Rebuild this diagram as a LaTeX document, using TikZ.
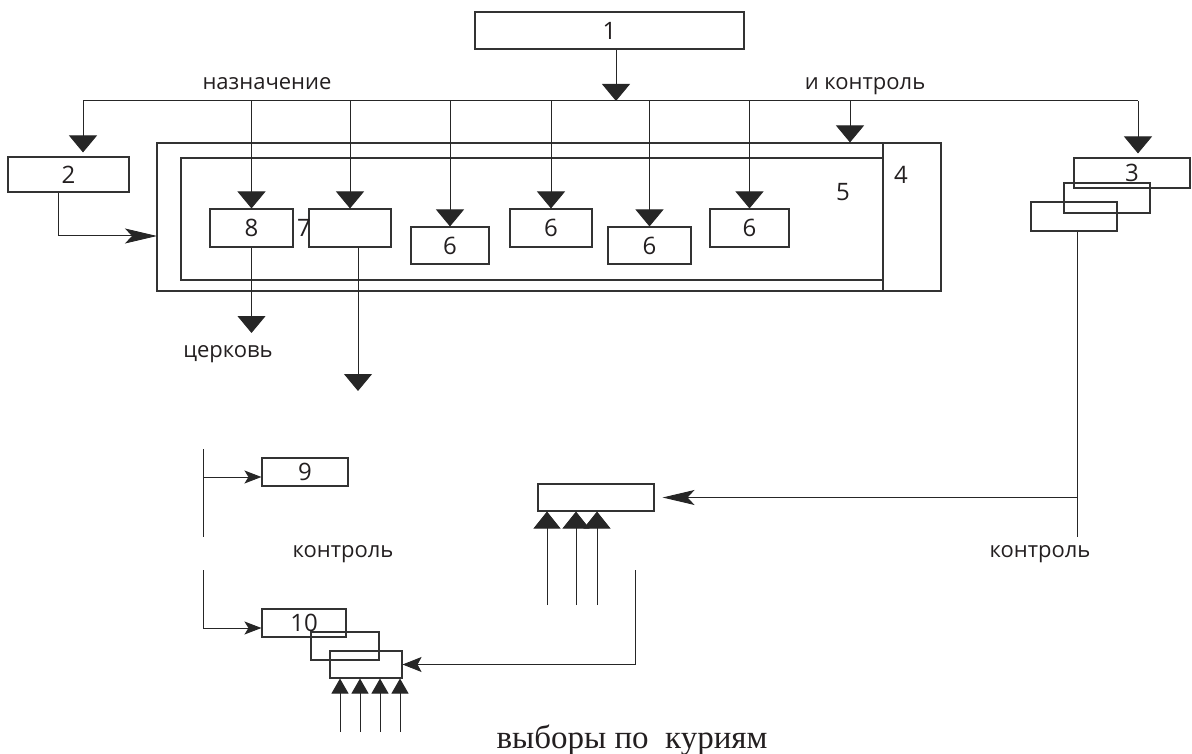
\documentclass[tikz,border=0pt]{standalone}
\usepackage{fontspec}
\setmainfont{Open Sans}
\newfontfamily\serifcyr{Liberation Serif}
\usepackage{tikz}
\usetikzlibrary{arrows.meta, positioning, calc}

\definecolor{ink}{HTML}{231F20}

\tikzset{
  box/.style={draw=black!80, line width=1.1pt, inner sep=0pt, text=ink, font=\fontsize{24}{28}\selectfont},
  lbl/.style={inner sep=0pt, text=ink, font=\fontsize{22}{26}\selectfont},
  dn/.style={-{Triangle[width=28pt,length=17pt]}},
  upsm/.style={-{Triangle[width=17pt,length=15pt]}},
  upbig/.style={-{Triangle[width=27pt,length=17pt]}},
  sidebig/.style={-{Stealth[width=15pt,length=32pt,inset=7pt]}},
  sidemid/.style={-{Stealth[width=15pt,length=19pt,inset=4pt]}},
  sidesm/.style={-{Stealth[width=13pt,length=17pt,inset=4pt]}},
}

\begin{document}
\begin{tikzpicture}[x=1pt, y=-1pt, line width=1pt, color=black!85]
\useasboundingbox (0,0) rectangle (1192,754);

\node[box, minimum width=269pt, minimum height=37pt] (b1) at (609.5,30.5) {1};
\node[box, minimum width=121pt, minimum height=35pt] (b2) at (68.5,174.5) {2};
\node[box, minimum width=116pt, minimum height=30pt] (b3) at (1132,173) {3};
\node[box, minimum width=86pt, minimum height=30pt] (b3b) at (1107,198) {};
\node[box, minimum width=86pt, minimum height=29pt] (b3c) at (1074,216.5) {};

\node[box, minimum width=784pt, minimum height=148pt] (outer) at (549,217) {};
\node[box, minimum width=58pt, minimum height=148pt] (b4) at (912,217) {};
\node[box, minimum width=702pt, minimum height=122pt] (b5) at (532,219) {};
\node[lbl, font=\fontsize{24}{28}\selectfont] (n4) at (901,175) {4};
\node[lbl, font=\fontsize{24}{28}\selectfont] (n5) at (843,192) {5};

\node[box, minimum width=83pt, minimum height=38pt] (b8) at (251.5,228) {8};
\node[box, minimum width=82pt, minimum height=38pt] (b7) at (350,228) {};
\node[lbl, font=\fontsize{24}{28}\selectfont] (n7) at (304,228) {7};
\node[box, minimum width=78pt, minimum height=37pt] (b6a) at (450,245.5) {6};
\node[box, minimum width=82pt, minimum height=38pt] (b6b) at (551,228) {6};
\node[box, minimum width=83pt, minimum height=37pt] (b6c) at (649.5,245.5) {6};
\node[box, minimum width=79pt, minimum height=38pt] (b6d) at (749.5,228) {6};

\node[box, minimum width=86pt, minimum height=28pt] (b9) at (305,472) {9};
\node[box, minimum width=84pt, minimum height=28pt] (b10) at (304,623) {10};
\node[box, minimum width=68pt, minimum height=28pt] (b10b) at (345,646) {};
\node[box, minimum width=72pt, minimum height=27pt] (b10c) at (366,664.5) {};
\node[box, minimum width=116pt, minimum height=27pt] (b11) at (596,497.5) {};

\node[lbl, anchor=base] (assign) at (267,90) {назначение};
\node[lbl, anchor=base] (ctrl) at (865,90) {и контроль};
\node[lbl, anchor=base] (church) at (228,357) {церковь};
\node[lbl, anchor=base] (ctrlmid) at (343,557) {контроль};
\node[lbl, anchor=base] (ctrlright) at (1040,557) {контроль};
\node[anchor=base, inner sep=0pt, text=ink, font=\serifcyr\fontsize{33}{38}\selectfont] (curia) at (632,748) {выборы по\ \ куриям};

\coordinate (bl) at (83,101);
\coordinate (br) at (1138,101);
\coordinate (bus) at (616,101);
\coordinate (d4) at (850,101);
\coordinate (in2) at (157,236);
\coordinate (out8) at (251.5,333);
\coordinate (out7) at (358,391);
\coordinate (r1) at (1077,537);
\coordinate (r2) at (635,570);
\coordinate (l1) at (203,449);
\coordinate (l2) at (203,537);
\coordinate (l3) at (203,570);

\draw[dn] (b1.south -| bus) -- (bus);
\draw (bl) -- (br);
\draw[dn] (bl) -- ([yshift=4pt]b2.north -| bl);
\draw[dn] (br) -- ([yshift=4pt]b3.north -| br);
\foreach \b in {b8,b7,b6a,b6b,b6c,b6d}
  \draw[dn] (bl -| \b.north) -- (\b.north);
\draw[dn] (d4) -- (d4 |- outer.north);
\draw[sidebig] ([xshift=-10pt]b2.south) |- (in2);

\draw[dn] (b8.south) -- (out8);
\draw[dn] (b7.south -| out7) -- (out7);

\draw (b3c.south -| r1) -- (r1);
\draw[sidebig] (r1 |- b11.east) -- ([xshift=8pt]b11.east);

\draw (l1) -- (l2);
\draw[sidesm] ([yshift=-5pt]b9.west -| l1) -- ([yshift=-5pt]b9.west);
\draw[sidesm] (l3) |- ([yshift=-5pt]b10.west);
\draw[sidemid] (r2) |- (b10c.east);

\foreach \x in {340,360,380,400}
  \draw[upsm] (\x,732) -- (\x,0 |- b10c.south);
\foreach \x in {547,576,597}
  \draw[upbig] (\x,605) -- (\x,0 |- b11.south);
\end{tikzpicture}
\end{document}
